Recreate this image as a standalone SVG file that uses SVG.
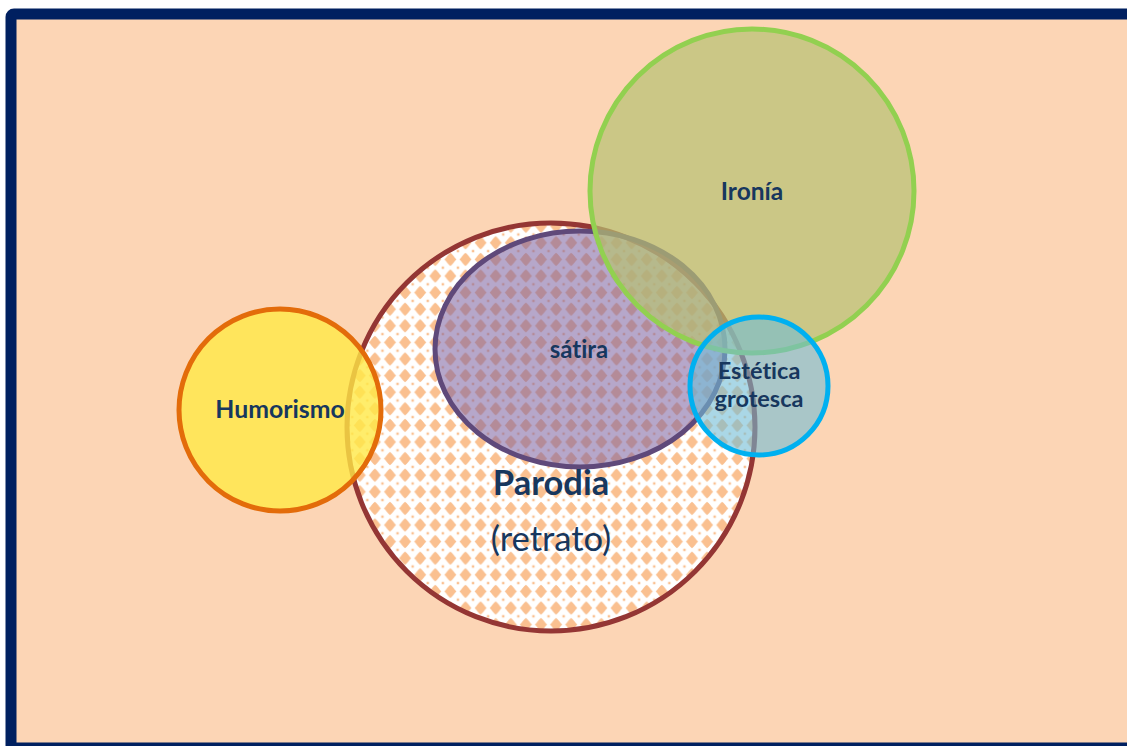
<svg xmlns="http://www.w3.org/2000/svg" width="1127" height="746" viewBox="0 0 1127 746">
  <defs>
    <!-- diamond checker fill used for the large circle -->
    <pattern id="diamonds" patternUnits="userSpaceOnUse" x="4.95" y="2.1" width="15.1" height="16.6">
      <rect x="0" y="0" width="15.1" height="16.6" fill="#ffffff"/>
      <polygon points="7.55,1.6 9,3 10.5,4.6 12,6.5 13.6,8.3 12,10.1 10.5,12 9,13.6 7.55,15 6.1,13.6 4.6,12 3.1,10.1 1.5,8.3 3.1,6.5 4.6,4.6 6.1,3" fill="#fac090"/>
      <rect x="-1.2" y="-1.2" width="2.4" height="2.4" fill="#fac090"/>
      <rect x="13.9" y="-1.2" width="2.4" height="2.4" fill="#fac090"/>
      <rect x="-1.2" y="15.4" width="2.4" height="2.4" fill="#fac090"/>
      <rect x="13.9" y="15.4" width="2.4" height="2.4" fill="#fac090"/>
    </pattern>
    <style>
      .lbl { font-family: Lato, "Liberation Sans", sans-serif; font-weight: bold; fill: #17375e; text-anchor: middle; font-variant-ligatures: none; font-feature-settings: "liga" 0; }
      .reg { font-weight: normal; }
      .ring { stroke-width: 5; }
    </style>
  </defs>

  <!-- framed background -->
  <rect x="11" y="14" width="1130" height="734" rx="3" fill="#fcd5b5" stroke="#002060" stroke-width="11"/>

  <g id="parodia">
    <circle class="ring" cx="551" cy="427" r="204" fill="url(#diamonds)" stroke="#943634"/>
  </g>

  <g id="satira">
    <ellipse class="ring" cx="580" cy="349" rx="145" ry="118" fill="#7a5f9e" fill-opacity="0.55" stroke="#5f497a"/>
  </g>

  <g id="ironia">
    <circle class="ring" cx="752" cy="191" r="162" fill="#b7c072" fill-opacity="0.7" stroke="#92d050"/>
  </g>

  <g id="estetica">
    <circle class="ring" cx="759" cy="386" r="69" fill="#71bcd5" fill-opacity="0.6" stroke="#00b0f0"/>
  </g>

  <g id="humorismo">
    <circle class="ring" cx="280" cy="410" r="101" fill="#ffe846" fill-opacity="0.8" stroke="#e36c0a"/>
  </g>

  <!-- labels -->
  <g id="labels">
    <text class="lbl" x="752" y="200" font-size="24.5">Ironía</text>
    <text class="lbl" x="579" y="358" font-size="24">sátira</text>
    <text class="lbl" x="280" y="418" font-size="24.8">Humorismo</text>
    <text class="lbl" x="759" y="379" font-size="23.5">Estética</text>
    <text class="lbl" x="759" y="407" font-size="23.5">grotesca</text>
    <text class="lbl" x="551" y="495" font-size="34.5">Parodia</text>
    <text class="lbl reg" x="551" y="551" font-size="34.5">(retrato)</text>
  </g>
</svg>
